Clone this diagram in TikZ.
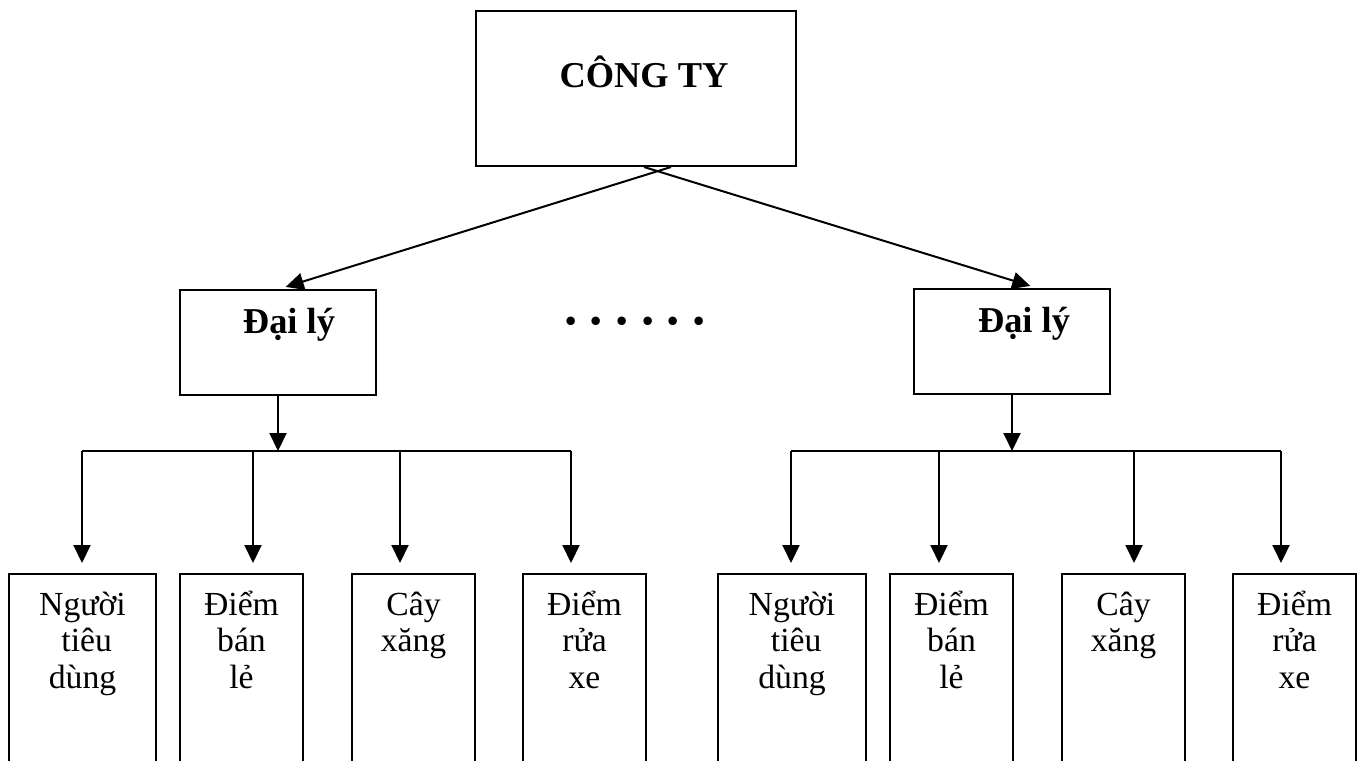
\documentclass[tikz,border=0pt]{standalone}
\usepackage{fontspec}
\setmainfont{Liberation Serif}
\usetikzlibrary{arrows.meta,calc}
% invisible rule giving every first line the same top
\newcommand{\lnstrut}{\rule{0pt}{1em}}
\begin{document}
\begin{tikzpicture}[x=0.5pt,y=-0.5pt,
  ln/.style={line width=1pt,draw=black},
  arr/.style={ln,-{Triangle[length=9pt,width=8.5pt]}},
  box/.style={draw=black,line width=1pt,fill=white,inner sep=0pt,anchor=north west},
  lbl/.style={inner sep=0pt,align=center,anchor=north,font=\fontsize{16.85pt}{18.25pt}\selectfont},
  hd/.style={inner sep=0pt,anchor=base,font=\fontsize{18.2pt}{21pt}\selectfont\bfseries},
]
\useasboundingbox (0,0) rectangle (1363,760);
\fill[white] (0,0) rectangle (1363,760);
\clip (0,0) rectangle (1363,760);

% company
\node[box,minimum width=160pt,minimum height=77.5pt] (top) at (475,10) {};
\node[hd] (topt) at (644,87) {CÔNG TY};

% agents
\node[box,minimum width=98pt,minimum height=52.5pt] (dl1) at (179,289) {};
\node[box,minimum width=98pt,minimum height=52.5pt] (dl2) at (913,288) {};
\node[hd] (dl1t) at (289,333) {Đại lý};
\node[hd] (dl2t) at (1024,332) {Đại lý};
\node[inner sep=0pt,anchor=base,font=\fontsize{26pt}{26pt}\selectfont\bfseries] (dots) at (635,338)
  {·\hspace{4.1pt}·\hspace{4.1pt}·\hspace{4.1pt}·\hspace{4.1pt}·\hspace{4.1pt}·};

% outlets, left group
\node[box,minimum width=73.5pt,minimum height=113.5pt] (b1) at (8,573) {};
\node[box,minimum width=61.5pt,minimum height=113.5pt] (b2) at (179,573) {};
\node[box,minimum width=61.5pt,minimum height=113.5pt] (b3) at (351,573) {};
\node[box,minimum width=61.5pt,minimum height=113.5pt] (b4) at (522,573) {};
% outlets, right group
\node[box,minimum width=74pt,minimum height=113.5pt] (b5) at (717,573) {};
\node[box,minimum width=61.5pt,minimum height=113.5pt] (b6) at (889,573) {};
\node[box,minimum width=61.5pt,minimum height=113.5pt] (b7) at (1061,573) {};
\node[box,minimum width=61.5pt,minimum height=113.5pt] (b8) at (1232,573) {};

\node[lbl] (b1t) at ($(b1.north)+(0,8.3)$) {\lnstrut Người\\\hspace*{0.25em}tiêu\\dùng};
\node[lbl] (b2t) at ($(b2.north)+(0,8.3)$) {\lnstrut Điểm\\bán\\lẻ};
\node[lbl] (b3t) at ($(b3.north)+(0,8.3)$) {\lnstrut Cây\\xăng};
\node[lbl] (b4t) at ($(b4.north)+(0,8.3)$) {\lnstrut Điểm\\rửa\\xe};
\node[lbl] (b5t) at ($(b5.north)+(0,8.3)$) {\lnstrut Người\\\hspace*{0.25em}tiêu\\dùng};
\node[lbl] (b6t) at ($(b6.north)+(0,8.3)$) {\lnstrut Điểm\\bán\\lẻ};
\node[lbl] (b7t) at ($(b7.north)+(0,8.3)$) {\lnstrut Cây\\xăng};
\node[lbl] (b8t) at ($(b8.north)+(0,8.3)$) {\lnstrut Điểm\\rửa\\xe};

% company to agents
\draw[arr,shorten >=3.5pt] ($(top.south)+(35,0)$) -- ($(dl1.north)+(1,0)$);
\draw[arr,shorten >=3.5pt] ($(top.south)+(8,0)$) -- ($(dl2.north)+(25,0)$);

% distribution buses
\coordinate (j1) at (dl1.south |- 0,451);
\coordinate (j2) at (dl2.south |- 0,451);
\coordinate (d1) at (82,451);
\coordinate (d2) at (253,451);
\coordinate (d3) at (400,451);
\coordinate (d4) at (571,451);
\coordinate (d5) at (791,451);
\coordinate (d6) at (939,451);
\coordinate (d7) at (1134,451);
\coordinate (d8) at (1281,451);

\draw[arr] (dl1.south) -- (j1);
\draw[arr] (dl2.south) -- (j2);
\draw[ln] (d1) -- (d4);
\draw[ln] (d5) -- (d8);

\foreach \i in {1,...,8}
  \draw[arr,shorten >=5pt] (d\i) -- (d\i |- b\i.north);
\end{tikzpicture}
\end{document}
